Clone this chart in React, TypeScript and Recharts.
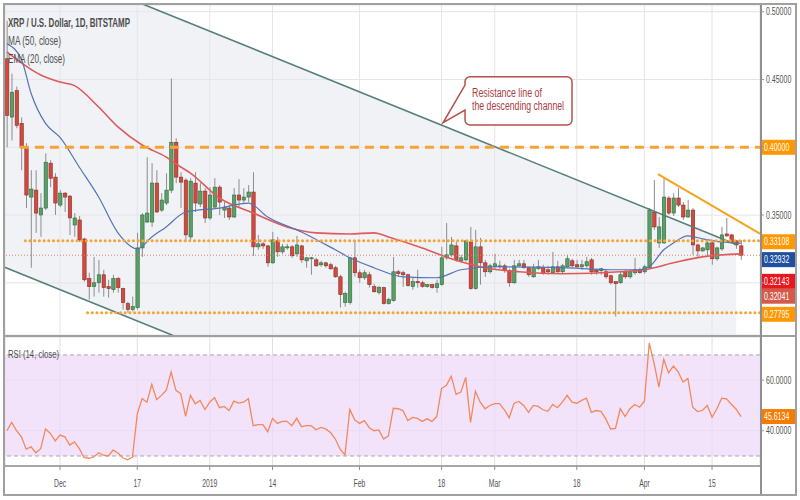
import React from "react"
import {
  ComposedChart,
  Bar,
  Line,
  Area,
  XAxis,
  YAxis,
  CartesianGrid,
  ReferenceLine,
  ReferenceArea,
  ReferenceDot,
} from "recharts"

// day index: 0 = 1 Dec 2018, one daily candle per index
const FIRST_DAY = -11

const opens = [
  0.4653, 0.4223, 0.4418, 0.4176, 0.4, 0.3633, 0.3684, 0.3501, 0.3552, 0.3883,
  0.378, 0.3574, 0.3662, 0.364, 0.3427, 0.3464, 0.3324, 0.3031, 0.2972, 0.3001,
  0.306, 0.2972, 0.295, 0.3031, 0.2958, 0.2847, 0.2803, 0.2818, 0.3258, 0.3449,
  0.3449, 0.3736, 0.3537, 0.3589, 0.3684, 0.4037, 0.378, 0.3758, 0.3339, 0.3736,
  0.3582, 0.3677, 0.3479, 0.3559, 0.3706, 0.3537, 0.3552, 0.3486, 0.3648, 0.3611,
  0.3633, 0.367, 0.3266, 0.3288, 0.3273, 0.3148, 0.331, 0.3229, 0.3259, 0.3266,
  0.3214, 0.3273, 0.3163, 0.3178, 0.317, 0.3134, 0.3148, 0.3134, 0.3112, 0.3045,
  0.2855, 0.2855, 0.3185, 0.3075, 0.3038, 0.306, 0.2972, 0.2928, 0.2965, 0.2847,
  0.2869, 0.3082, 0.3075, 0.306, 0.2972, 0.3009, 0.3001, 0.2972, 0.2987, 0.2965,
  0.2987, 0.3185, 0.3207, 0.3273, 0.3163, 0.317, 0.3302, 0.2958, 0.3266, 0.3148,
  0.3082, 0.3119, 0.3119, 0.3126, 0.309, 0.3001, 0.3126, 0.3141, 0.3112, 0.3045,
  0.3104, 0.3112, 0.3097, 0.3075, 0.3119, 0.3082, 0.3119, 0.3163, 0.3134, 0.3119,
  0.3126, 0.317, 0.3097, 0.309, 0.3082, 0.3053, 0.3009, 0.3001, 0.3082, 0.3045,
  0.3075, 0.3097, 0.3082, 0.3112, 0.3523, 0.3295, 0.3295, 0.3626, 0.3515, 0.3626,
  0.3574, 0.3486, 0.3537, 0.328, 0.3236, 0.3244, 0.3295, 0.3178, 0.3251, 0.3361,
  0.3354, 0.331, 0.3273,
]
const highs = [
  0.4932, 0.4543, 0.4448, 0.422, 0.403, 0.3831, 0.3831, 0.3662, 0.3956, 0.3905,
  0.3809, 0.3684, 0.367, 0.3648, 0.3515, 0.3493, 0.3332, 0.3075, 0.3192, 0.317,
  0.3097, 0.3023, 0.306, 0.3045, 0.2965, 0.2862, 0.2899, 0.3369, 0.3515, 0.3927,
  0.3883, 0.3831, 0.3662, 0.3809, 0.4507, 0.4066, 0.3816, 0.3772, 0.3772, 0.3816,
  0.3736, 0.3699, 0.3706, 0.3772, 0.3721, 0.3596, 0.3574, 0.3699, 0.3765, 0.3699,
  0.3721, 0.3816, 0.3354, 0.3302, 0.328, 0.3376, 0.3339, 0.3288, 0.3288, 0.328,
  0.3347, 0.328, 0.3192, 0.3192, 0.3185, 0.3163, 0.3155, 0.3148, 0.3126, 0.306,
  0.2935, 0.3192, 0.3317, 0.3097, 0.3097, 0.3082, 0.2994, 0.298, 0.2972, 0.2891,
  0.3192, 0.3097, 0.309, 0.3068, 0.3038, 0.3097, 0.3016, 0.2994, 0.2994, 0.3023,
  0.3266, 0.3442, 0.3339, 0.3302, 0.3207, 0.3317, 0.3413, 0.3391, 0.3332, 0.317,
  0.3141, 0.3214, 0.3163, 0.3141, 0.3104, 0.317, 0.317, 0.317, 0.3119, 0.3141,
  0.317, 0.3134, 0.3126, 0.3229, 0.3163, 0.3141, 0.3207, 0.3178, 0.317, 0.317,
  0.3192, 0.3185, 0.3104, 0.3112, 0.3097, 0.306, 0.3009, 0.3082, 0.3097, 0.3097,
  0.3185, 0.3112, 0.3134, 0.3552, 0.3758, 0.3486, 0.3772, 0.364, 0.3662, 0.3699,
  0.3596, 0.3611, 0.3552, 0.3288, 0.3266, 0.3302, 0.3317, 0.3266, 0.3413, 0.3479,
  0.3361, 0.3317, 0.3317,
]
const lows = [
  0.4, 0.4051, 0.414, 0.3831, 0.3552, 0.3112, 0.3369, 0.334, 0.3537, 0.3706,
  0.3501, 0.3559, 0.3523, 0.3354, 0.334, 0.3302, 0.3009, 0.2877, 0.2899, 0.2928,
  0.2899, 0.2891, 0.2928, 0.2928, 0.2803, 0.2781, 0.2789, 0.2803, 0.3192, 0.3442,
  0.3413, 0.3515, 0.3523, 0.3574, 0.3662, 0.3736, 0.3552, 0.3302, 0.3317, 0.3523,
  0.3559, 0.3442, 0.3464, 0.3552, 0.3501, 0.3479, 0.3464, 0.3479, 0.3559, 0.3589,
  0.3596, 0.32, 0.3244, 0.3251, 0.3119, 0.3141, 0.3192, 0.3214, 0.3244, 0.3185,
  0.3192, 0.3148, 0.3112, 0.306, 0.3119, 0.3119, 0.3112, 0.3097, 0.3038, 0.2818,
  0.2825, 0.284, 0.3045, 0.3001, 0.3023, 0.2965, 0.2928, 0.2913, 0.284, 0.284,
  0.2862, 0.3045, 0.2972, 0.2972, 0.295, 0.2965, 0.2965, 0.2965, 0.2958, 0.2928,
  0.298, 0.317, 0.3192, 0.3156, 0.3148, 0.3156, 0.295, 0.295, 0.2987, 0.3045,
  0.3068, 0.3104, 0.3104, 0.3075, 0.2972, 0.2994, 0.3119, 0.3104, 0.3045, 0.3038,
  0.3097, 0.306, 0.306, 0.3068, 0.3075, 0.3068, 0.3112, 0.3112, 0.3112, 0.3097,
  0.3112, 0.306, 0.306, 0.306, 0.3031, 0.2987, 0.2752, 0.2994, 0.3031, 0.3031,
  0.306, 0.3068, 0.3068, 0.3104, 0.3391, 0.3258, 0.3288, 0.3501, 0.3493, 0.3559,
  0.3464, 0.3479, 0.3207, 0.3192, 0.3229, 0.3192, 0.3134, 0.3163, 0.3236, 0.3339,
  0.3295, 0.3251, 0.317,
]
const closes = [
  0.4235, 0.4406, 0.4162, 0.4, 0.3648, 0.3692, 0.3515, 0.3552, 0.389, 0.3772,
  0.3589, 0.3662, 0.3633, 0.3479, 0.3479, 0.3317, 0.3023, 0.2972, 0.3001, 0.306,
  0.2965, 0.2958, 0.3031, 0.2965, 0.2855, 0.2803, 0.2825, 0.3258, 0.3501, 0.3515,
  0.3736, 0.3523, 0.3611, 0.3684, 0.4037, 0.378, 0.3743, 0.3354, 0.375, 0.3589,
  0.3677, 0.3479, 0.3648, 0.3706, 0.3596, 0.3559, 0.3486, 0.3648, 0.3611, 0.3633,
  0.367, 0.3266, 0.3288, 0.3273, 0.3148, 0.3317, 0.3229, 0.3266, 0.3266, 0.32,
  0.328, 0.317, 0.3185, 0.3185, 0.3126, 0.3148, 0.3126, 0.3104, 0.3045, 0.2913,
  0.2921, 0.3185, 0.3075, 0.3038, 0.3075, 0.2987, 0.2935, 0.2965, 0.2847, 0.2877,
  0.3082, 0.3068, 0.306, 0.298, 0.3009, 0.3001, 0.2972, 0.2987, 0.2965, 0.2994,
  0.3185, 0.3207, 0.328, 0.317, 0.3185, 0.331, 0.2958, 0.3266, 0.3148, 0.3082,
  0.3126, 0.3141, 0.3126, 0.309, 0.3001, 0.3126, 0.3141, 0.3112, 0.306, 0.3112,
  0.3119, 0.3068, 0.3082, 0.3119, 0.3082, 0.3126, 0.3178, 0.3126, 0.3119, 0.3134,
  0.3156, 0.3082, 0.3082, 0.3104, 0.3045, 0.3001, 0.2994, 0.306, 0.3045, 0.3082,
  0.3097, 0.3075, 0.3119, 0.3537, 0.3413, 0.3413, 0.3633, 0.3515, 0.3626, 0.3574,
  0.3486, 0.3537, 0.328, 0.3236, 0.3258, 0.3295, 0.3178, 0.3258, 0.3354, 0.3347,
  0.3302, 0.328, 0.3204,
]
const rsiValues = [
  40, 43.3, 40, 37.6, 32.7, 33.6, 31.3, 32.9, 40.7, 38.9,
  36, 38.3, 37.6, 34.3, 35.6, 32.9, 29.3, 29.1, 29.6, 31.3,
  30.3, 30, 32.3, 31.2, 29.3, 28.5, 29.6, 46.7, 52.7, 51.3,
  58.4, 52.3, 54, 56, 63.3, 56, 54.7, 45.7, 54, 50.7,
  52, 48.4, 51.3, 53.1, 49.1, 49.6, 48, 51.7, 50.9, 51.3,
  52.7, 42, 42.4, 42.4, 39.6, 44.9, 42.9, 43.7, 43.7, 42,
  44.9, 41.6, 42, 42, 40.4, 41.3, 40.7, 39.3, 36.7, 32.7,
  30.4, 48.4, 44.3, 42.9, 44, 41.3, 40, 40.3, 36.7, 38,
  48.9, 48.7, 48, 44, 45.3, 44.9, 43.7, 44.7, 43.7, 45.6,
  56.7, 58, 61.6, 54.4, 55.3, 61.1, 43.3, 55.6, 51.3, 48.7,
  50, 50.7, 50.7, 48.3, 45.1, 50.9, 51.6, 50, 47.3, 50,
  49.6, 48.3, 47.7, 50.4, 49.1, 51.3, 54, 51.3, 50.9, 52,
  52.9, 47.3, 48, 47.7, 44.7, 40.7, 40.9, 48.7, 45.6, 48.7,
  50.4, 49.3, 51.7, 74.7, 66.7, 57.3, 68.3, 62.9, 65.6, 63.3,
  59.3, 60.7, 49.3, 47.6, 48, 50, 45.3, 48.7, 52.9, 52.6,
  50.5, 48.5, 45.6134,
]

// MA (50) and EMA (20) at these days
const maDays = [-11, -4, 0, 3, 8, 12, 17, 22, 25, 27, 33, 40, 47, 53, 60, 65, 68, 75, 81, 88, 95, 104, 116, 121, 127, 133, 141]
const maValues = [
  0.4703, 0.4533, 0.4481, 0.4455, 0.4297, 0.415, 0.4017, 0.3928, 0.3855, 0.381,
  0.3626, 0.3515, 0.3413, 0.3369, 0.3361, 0.3369, 0.3339, 0.3258, 0.3178, 0.3112,
  0.3082, 0.3068, 0.3082, 0.3097, 0.3148, 0.3192, 0.3214,
]
const emaDays = [-11, -8, -6, -3, 0, 4, 8, 12, 16, 19, 22, 26, 33, 39, 43, 50, 57, 60, 65, 71, 78, 83, 90, 104, 114, 120, 122, 125, 127, 130, 133, 137, 141]
const emaValues = [
  0.4764, 0.465, 0.4399, 0.4176, 0.4073, 0.3853, 0.3633, 0.3369, 0.3251, 0.3339,
  0.3413, 0.3523, 0.3552, 0.3589, 0.3486, 0.3376, 0.3244, 0.3185, 0.3112, 0.3045,
  0.3038, 0.3097, 0.3119, 0.3112, 0.3097, 0.3097, 0.3119, 0.3244, 0.3295, 0.3347,
  0.3325, 0.3302, 0.3293,
]

// descending channel drawn on the chart
const channelDays = [-12, 140]
const channelTop = [0.5476, 0.3284]
const channelBottom = [0.3123, 0.0931]
const resistanceLine = [
  { x: 123.8, y: 0.3803 },
  { x: 144.93, y: 0.3364 },
]
const calloutAt = { x: 79.3, y: 0.4181 }

const dateTicks = [0, 16, 31, 44, 62, 79, 90, 107, 121, 135]
const dateLabels = ["Dec", "17", "2019", "14", "Feb", "18", "Mar", "18", "Apr", "15"]
const priceTicks = [0.3, 0.35, 0.4, 0.45, 0.5]
const rsiTicks = [40, 60]

const lastClose = 0.32041
const lastRsi = 45.6134

const X_DOMAIN = [-11.39, 144.93]
const PRICE_DOMAIN = [0.26158, 0.50494]
const RSI_DOMAIN = [26.04, 77.1]

const FONT = "'Liberation Sans', Arial, sans-serif"
const ORANGE = "#f7a334"
const GREEN = "#5a9f67"
const RED = "#cf4b40"

const rowMap = new Map<number, any>()
const rowAt = (i: number) => {
  if (!rowMap.has(i)) rowMap.set(i, { i })
  return rowMap.get(i)
}
opens.forEach((o, k) => {
  Object.assign(rowAt(FIRST_DAY + k), {
    o,
    h: highs[k],
    l: lows[k],
    c: closes[k],
    rsi: rsiValues[k],
  })
})
maDays.forEach((d, k) => (rowAt(d).ma = maValues[k]))
emaDays.forEach((d, k) => (rowAt(d).ema = emaValues[k]))
channelDays.forEach((d, k) => {
  rowAt(d).chTop = channelTop[k]
  rowAt(d).chBottom = channelBottom[k]
})
const rows = Array.from(rowMap.values()).sort((a, b) => a.i - b.i)

function Candle(props: any) {
  const { x, y, width, height, payload } = props
  if (!payload || payload.o == null || !isFinite(y) || !isFinite(height)) return null
  const { o, h, l, c } = payload
  const span = h - l
  const px = (v: number) => (span > 0 ? y + ((h - v) / span) * height : y)
  const up = c >= o
  const top = px(Math.max(o, c))
  const bot = px(Math.min(o, c))
  const mid = x + width / 2
  return (
    <g>
      <line x1={mid} x2={mid} y1={y} y2={y + height} stroke="#8d8d8d" strokeWidth={1} />
      <rect
        x={x}
        y={top}
        width={width}
        height={Math.max(bot - top, 1)}
        fill={up ? GREEN : RED}
        stroke={up ? "#2f6b3c" : "#8e2c24"}
        strokeWidth={0.6}
      />
    </g>
  )
}

function squeeze(x: number, y: number, k = 0.7) {
  return `translate(${x},${y}) scale(${k},1)`
}

function PriceTick({ x, y, payload }: any) {
  const v = payload.value
  if (v === 0.3 || v === 0.4) return <g />
  return (
    <text transform={squeeze(x, y + 3.5)} fontSize={10} fill="#555" fontFamily={FONT}>
      {v.toFixed(5)}
    </text>
  )
}

function RsiTick({ x, y, payload }: any) {
  return (
    <text transform={squeeze(x, y + 3.5)} fontSize={10} fill="#555" fontFamily={FONT}>
      {payload.value.toFixed(4)}
    </text>
  )
}

function DateTick({ x, y, payload }: any) {
  const k = dateTicks.indexOf(payload.value)
  return (
    <text transform={squeeze(x, y + 15, 0.68)} textAnchor="middle" fontSize={10} fill="#555" fontFamily={FONT}>
      {dateLabels[k]}
    </text>
  )
}

// coloured value tag on the price scale
function axisTag(text: string, bg: string, dy = 0) {
  return (p: any) => {
    const vb = p.viewBox
    const right = vb.x + vb.width
    const cy = vb.y + dy
    return (
      <g>
        <rect x={right + 1} y={cy - 7.5} width={36} height={15} fill={bg} />
        <text transform={squeeze(right + 4, cy + 3.5)} fontSize={10} fill="#fff" fontFamily={FONT}>
          {text}
        </text>
      </g>
    )
  }
}

function Callout(props: any) {
  const { cx, cy } = props
  const L = cx + 22
  const R = cx + 129
  const T = cy - 46
  const B = cy + 2.3
  const r = 5
  const t1 = cy - 37.7
  const t2 = cy - 12.7
  const d = `M${L + r},${T} H${R - r} A${r},${r} 0 0 1 ${R},${T + r} V${B - r} A${r},${r} 0 0 1 ${R - r},${B} H${L + r} A${r},${r} 0 0 1 ${L},${B - r} V${t2} L${cx},${cy} L${L},${t1} V${T + r} A${r},${r} 0 0 1 ${L + r},${T} Z`
  return (
    <g>
      <path d={d} fill="#fff" stroke="#b5504c" strokeWidth={1.5} />
      <text x={L + 7} y={cy - 26} fontSize={12} fill="#a8403f" fontFamily={FONT} textLength={70} lengthAdjust="spacingAndGlyphs">
        Resistance line of
      </text>
      <text x={L + 7} y={cy - 12.7} fontSize={12} fill="#a8403f" fontFamily={FONT} textLength={92} lengthAdjust="spacingAndGlyphs">
        the descending channel
      </text>
    </g>
  )
}

function PriceChart() {
  return (
    <ComposedChart width={800} height={337} data={rows} margin={{ top: 5, right: 0, bottom: 2, left: 5 }}>
      <Area
        dataKey={(d: any) => (d.chTop == null ? null : [d.chBottom, d.chTop])}
        type="linear"
        connectNulls
        stroke="none"
        fill="#e4e7ee"
        fillOpacity={0.55}
        isAnimationActive={false}
      />
      <CartesianGrid stroke="#e4e4ea" />
      <XAxis dataKey="i" type="number" domain={X_DOMAIN} allowDataOverflow ticks={dateTicks} hide />
      <YAxis
        orientation="right"
        width={40}
        domain={PRICE_DOMAIN}
        allowDataOverflow
        ticks={priceTicks}
        tick={<PriceTick />}
        axisLine={false}
        tickLine={{ stroke: "#999" }}
        tickSize={4}
      />
      <Bar dataKey={(d: any) => (d.o == null ? null : [d.l, d.h])} barSize={3.4} shape={<Candle />} isAnimationActive={false} />
      <Line dataKey="ma" type="monotone" connectNulls dot={false} stroke="#e05a5a" strokeWidth={1.6} isAnimationActive={false} />
      <Line dataKey="ema" type="monotone" connectNulls dot={false} stroke="#5672b6" strokeWidth={1.2} isAnimationActive={false} />
      <ReferenceLine
        segment={[
          { x: channelDays[0], y: channelTop[0] },
          { x: channelDays[1], y: channelTop[1] },
        ]}
        stroke="#557f7b"
        strokeWidth={1.6}
        ifOverflow="hidden"
      />
      <ReferenceLine
        segment={[
          { x: channelDays[0], y: channelBottom[0] },
          { x: channelDays[1], y: channelBottom[1] },
        ]}
        stroke="#557f7b"
        strokeWidth={1.6}
        ifOverflow="hidden"
      />
      <ReferenceLine
        segment={[
          { x: -8.3, y: 0.4 },
          { x: X_DOMAIN[1], y: 0.4 },
        ]}
        stroke={ORANGE}
        strokeWidth={3}
        strokeDasharray="9 6"
      />
      <ReferenceLine
        segment={[
          { x: -7.2, y: 0.33108 },
          { x: X_DOMAIN[1], y: 0.33108 },
        ]}
        stroke={ORANGE}
        strokeWidth={3}
        strokeDasharray="0.1 4.6"
        strokeLinecap="round"
      />
      <ReferenceLine
        segment={[
          { x: 5.7, y: 0.27795 },
          { x: X_DOMAIN[1], y: 0.27795 },
        ]}
        stroke={ORANGE}
        strokeWidth={3}
        strokeDasharray="0.1 4.6"
        strokeLinecap="round"
      />
      <ReferenceLine y={lastClose} stroke="#e07b7b" strokeWidth={1} strokeDasharray="1 2" />
      <ReferenceLine segment={resistanceLine} stroke="#f7a21b" strokeWidth={2} ifOverflow="hidden" />
      <ReferenceLine y={0.4} stroke="none" label={axisTag("0.40000", "#ff9800")} />
      <ReferenceLine y={0.33108} stroke="none" label={axisTag("0.33108", "#ff9800", 1)} />
      <ReferenceLine y={0.32932} stroke="none" label={axisTag("0.32932", "#1f4f9e", 16.5)} />
      <ReferenceLine y={0.32143} stroke="none" label={axisTag("0.32143", "#e8171d", 27.5)} />
      <ReferenceLine y={lastClose} stroke="none" label={axisTag("0.32041", "#d35a4b", 41)} />
      <ReferenceLine y={0.27795} stroke="none" label={axisTag("0.27795", "#ff9800", 1.5)} />
      <ReferenceDot x={calloutAt.x} y={calloutAt.y} r={0} shape={(p: any) => <Callout {...p} />} ifOverflow="visible" />
    </ComposedChart>
  )
}

function RsiChart() {
  return (
    <ComposedChart width={800} height={159} data={rows} margin={{ top: 0, right: 0, bottom: 0, left: 5 }}>
      <ReferenceArea y1={30} y2={70} fill="#eedaf9" fillOpacity={0.75} stroke="none" />
      <CartesianGrid stroke="#e2dde8" />
      <XAxis
        dataKey="i"
        type="number"
        domain={X_DOMAIN}
        allowDataOverflow
        ticks={dateTicks}
        interval={0}
        tick={<DateTick />}
        height={30}
        axisLine={{ stroke: "#8f8f8f", strokeWidth: 1.5 }}
        tickLine={{ stroke: "#8f8f8f" }}
        tickSize={4}
      />
      <YAxis
        orientation="right"
        width={40}
        domain={RSI_DOMAIN}
        allowDataOverflow
        ticks={rsiTicks}
        tick={<RsiTick />}
        axisLine={false}
        tickLine={{ stroke: "#999" }}
        tickSize={4}
      />
      <ReferenceLine y={70} stroke="#a8a8a8" strokeDasharray="4 3" />
      <ReferenceLine y={30} stroke="#a8a8a8" strokeDasharray="4 3" />
      <Line dataKey="rsi" type="linear" connectNulls dot={false} stroke="#f2895a" strokeWidth={1.3} isAnimationActive={false} />
      <ReferenceLine y={lastRsi} stroke="none" label={axisTag("45.6134", "#f57c00")} />
    </ComposedChart>
  )
}

export default function App() {
  const legend = { fontFamily: FONT, fill: "#4e4e4e", lengthAdjust: "spacingAndGlyphs" as const }
  return (
    <div style={{ position: "absolute", left: 0, top: 0, width: 800, height: 500, background: "#fff", overflow: "hidden" }}>
      <div style={{ position: "absolute", left: 0, top: 0 }}>
        <PriceChart />
      </div>
      <div style={{ position: "absolute", left: 0, top: 337 }}>
        <RsiChart />
      </div>
      <div style={{ position: "absolute", left: 3, top: 335, width: 794, height: 2, background: "#a0a0a0" }} />
      <div style={{ position: "absolute", left: 760, top: 5, width: 1.5, height: 490, background: "#8f8f8f" }} />
      <div
        style={{
          position: "absolute",
          left: 3,
          top: 3,
          width: 794,
          height: 493,
          border: "2px solid #a0a0a0",
          boxSizing: "border-box",
          pointerEvents: "none",
        }}
      />
      <svg width={800} height={500} style={{ position: "absolute", left: 0, top: 0, pointerEvents: "none" }}>
        <text x={8} y={27} fontSize={12} fontWeight={700} textLength={122} {...legend}>
          XRP / U.S. Dollar, 1D, BITSTAMP
        </text>
        <text x={8} y={45} fontSize={12} textLength={53} {...legend}>
          MA (50, close)
        </text>
        <text x={8} y={63} fontSize={12} textLength={57} {...legend}>
          EMA (20, close)
        </text>
        <text x={8} y={358} fontSize={11} textLength={51} {...legend}>
          RSI (14, close)
        </text>
      </svg>
    </div>
  )
}
